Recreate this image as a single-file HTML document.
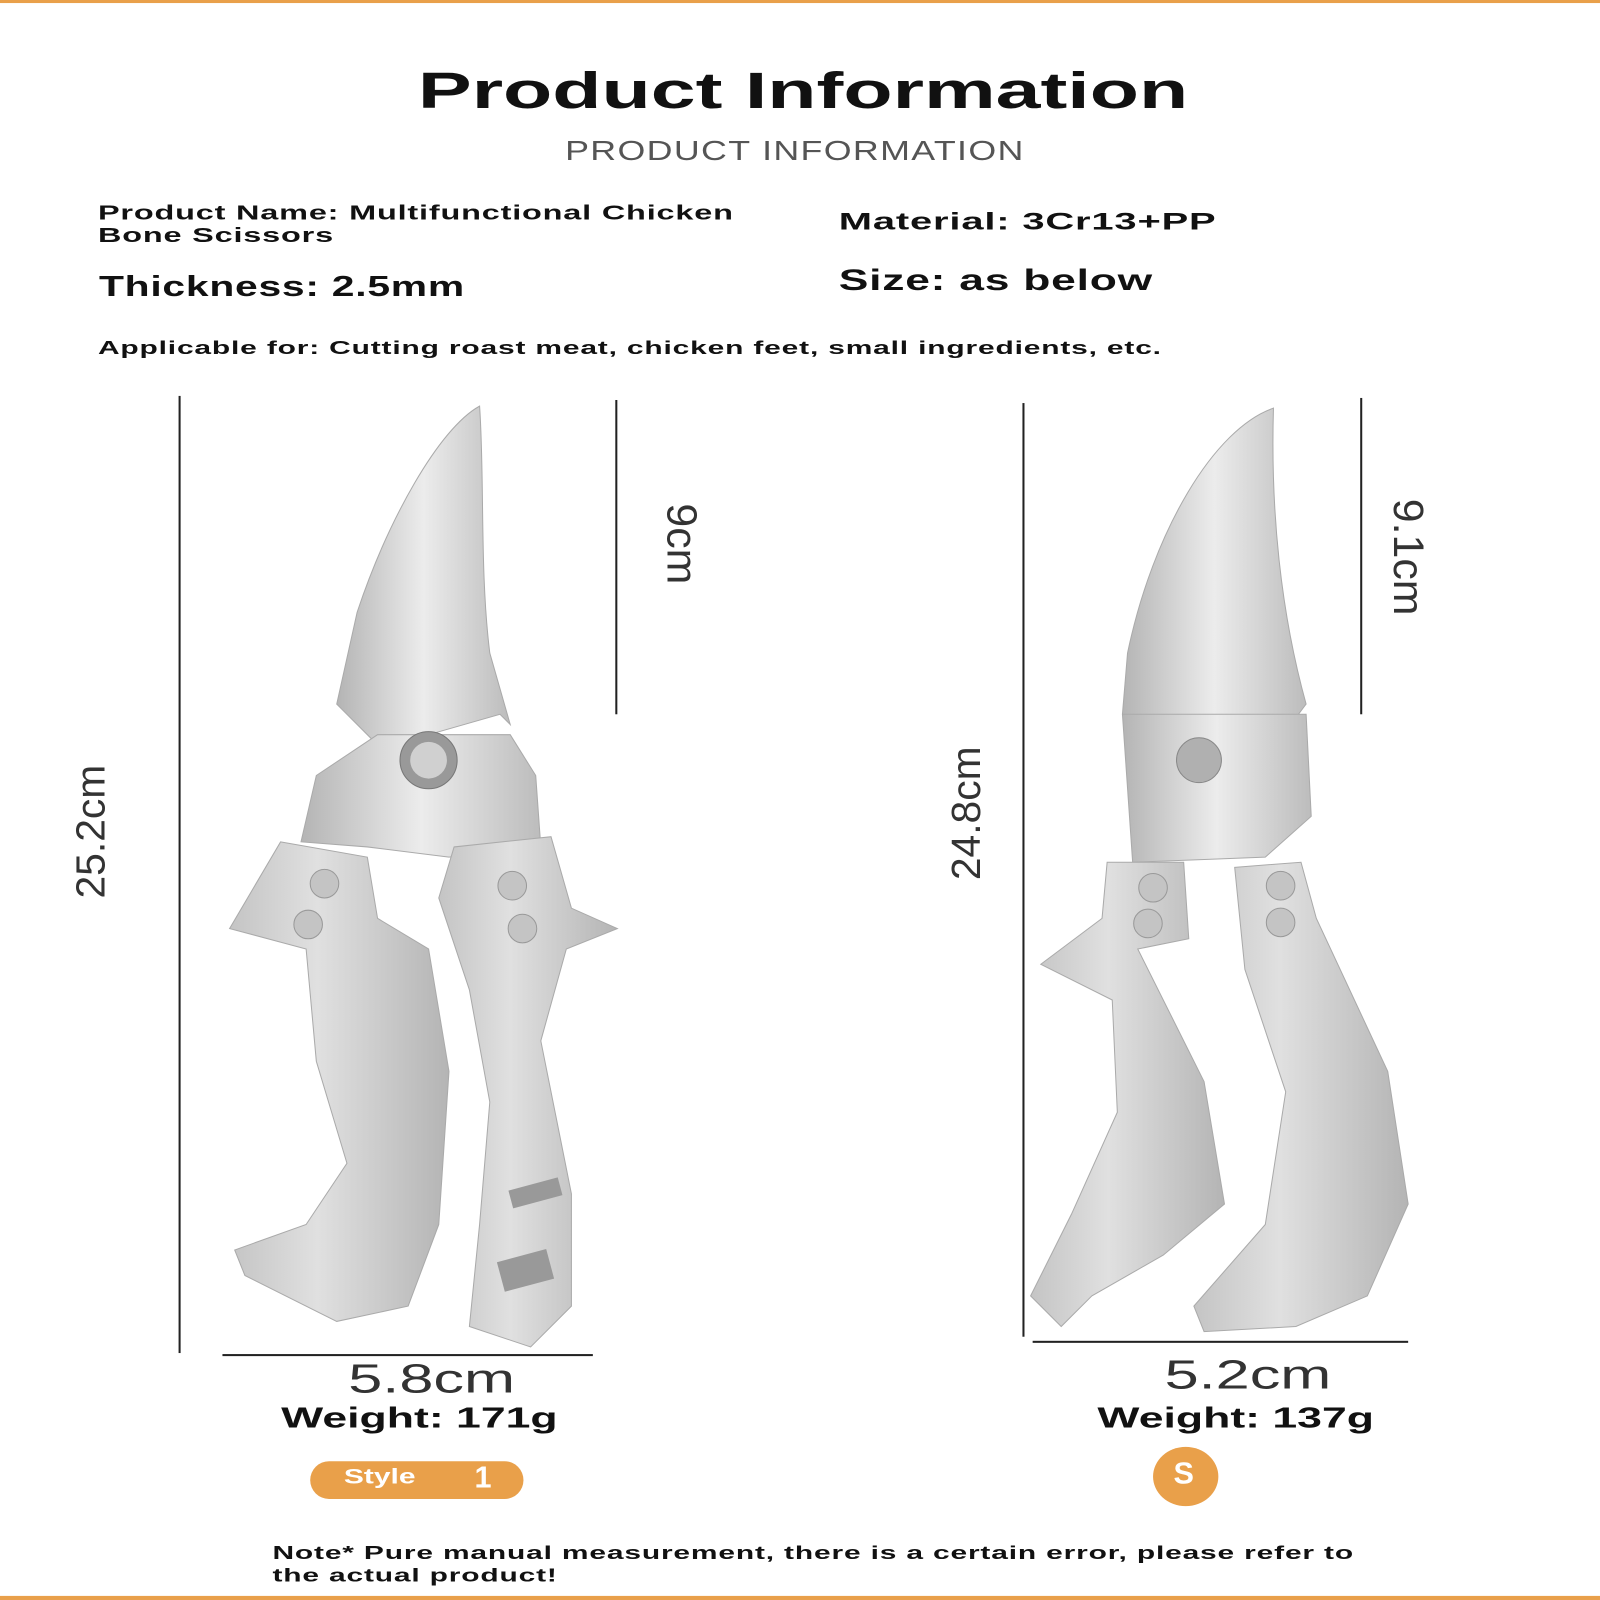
<!DOCTYPE html>
<html><head><meta charset="utf-8"><style>
html,body{margin:0;padding:0;background:#fff;}
body{width:1600px;height:1600px;position:relative;overflow:hidden;font-family:"Liberation Sans",sans-serif;}
#w{position:absolute;left:0;top:0;width:1568px;height:1568px;transform:scale(1.0204);transform-origin:0 0;}
.t{position:absolute;white-space:nowrap;color:#111;}
.b{font-weight:bold;}
.l{transform-origin:0 0;}
.line{position:absolute;background:#222;}
.thin{color:#333;font-weight:normal;}
</style></head><body>
<div id="w">
<div style="position:absolute;left:0;top:0;width:1568px;height:3px;background:#e9a04a"></div>
<div style="position:absolute;left:0;top:1564px;width:1568px;height:4px;background:#e9a04a"></div>

<div class="t b" style="left:787px;top:60px;font-size:50px;transform:translateX(-50%) scaleX(1.58);">Product Information</div>
<div class="t" style="left:779px;top:133px;font-size:27px;color:#555;letter-spacing:1px;transform:translateX(-50%) scaleX(1.3);">PRODUCT INFORMATION</div>

<div class="t b l" style="left:96px;top:198px;font-size:20px;line-height:22px;letter-spacing:0.5px;transform:scaleX(1.59);">Product Name: Multifunctional Chicken<br>Bone Scissors</div>
<div class="t b l" style="left:822px;top:204px;font-size:24px;letter-spacing:0.5px;transform:scaleX(1.63);">Material: 3Cr13+PP</div>
<div class="t b l" style="left:97px;top:265px;font-size:28px;letter-spacing:0.5px;transform:scaleX(1.43);">Thickness: 2.5mm</div>
<div class="t b l" style="left:822px;top:259px;font-size:29px;letter-spacing:0.5px;transform:scaleX(1.5);">Size: as below</div>
<div class="t b l" style="left:96px;top:331px;font-size:18px;letter-spacing:0.5px;transform:scaleX(1.63);">Applicable for: Cutting roast meat, chicken feet, small ingredients, etc.</div>

<div class="line" style="left:175px;top:388px;width:2px;height:938px"></div>
<div class="line" style="left:603px;top:392px;width:2px;height:308px"></div>
<div class="line" style="left:218px;top:1327px;width:363px;height:2px"></div>
<div class="line" style="left:1002px;top:395px;width:2px;height:915px"></div>
<div class="line" style="left:1333px;top:390px;width:2px;height:310px"></div>
<div class="line" style="left:1012px;top:1314px;width:368px;height:2px"></div>

<div class="t thin" style="left:90px;top:815px;font-size:40px;transform:translate(-50%,-50%) rotate(-90deg);">25.2cm</div>
<div class="t thin" style="left:668px;top:533px;font-size:42px;transform:translate(-50%,-50%) rotate(90deg);">9cm</div>
<div class="t thin" style="left:948px;top:797px;font-size:40px;transform:translate(-50%,-50%) rotate(-90deg);">24.8cm</div>
<div class="t thin" style="left:1380px;top:546px;font-size:42px;transform:translate(-50%,-50%) rotate(90deg);">9.1cm</div>

<svg width="1568" height="1568" style="position:absolute;left:0;top:0">
<defs>
<linearGradient id="g" x1="0" y1="0" x2="1" y2="0"><stop offset="0" stop-color="#b4b4b4"/><stop offset=".5" stop-color="#ececec"/><stop offset="1" stop-color="#bcbcbc"/></linearGradient>
<linearGradient id="h" x1="0" y1="0" x2="1" y2="0"><stop offset="0" stop-color="#c4c4c4"/><stop offset=".4" stop-color="#e0e0e0"/><stop offset="1" stop-color="#b4b4b4"/></linearGradient>
</defs>
<path d="M470 398 C430 420 380 510 350 600 L330 690 L370 730 L420 720 L490 700 L500 710 L480 640 C470 560 475 470 470 398Z" fill="url(#g)" stroke="#aaa"/>
<path d="M310 760 L370 720 L470 720 L500 720 L525 760 L530 830 L440 840 L360 830 L295 825Z" fill="url(#g)" stroke="#aaa"/>
<circle cx="420" cy="745" r="28" fill="#999" stroke="#777"/>
<circle cx="420" cy="745" r="18" fill="#d0d0d0"/>
<path d="M275 825 L360 840 L370 900 L420 930 L440 1050 L430 1200 L400 1280 L330 1295 L240 1250 L230 1225 L300 1200 L340 1140 L310 1040 L300 930 L225 910 Z" fill="url(#h)" stroke="#aaa"/>
<path d="M445 830 L540 820 L560 890 L605 910 L555 930 L530 1020 L560 1170 L560 1280 L520 1320 L460 1300 L470 1200 L480 1080 L460 970 L430 880 Z" fill="url(#h)" stroke="#aaa"/>
<circle cx="318" cy="866" r="14" fill="#c4c4c4" stroke="#999"/><circle cx="302" cy="906" r="14" fill="#c4c4c4" stroke="#999"/>
<circle cx="502" cy="868" r="14" fill="#c4c4c4" stroke="#999"/><circle cx="512" cy="910" r="14" fill="#c4c4c4" stroke="#999"/>
<rect x="500" y="1160" width="50" height="18" fill="#999" transform="rotate(-15 525 1170)"/>
<rect x="490" y="1230" width="50" height="30" fill="#999" transform="rotate(-15 515 1245)"/>
<path d="M1248 400 C1190 420 1130 520 1105 640 L1100 700 L1150 730 L1250 730 L1280 690 C1255 600 1245 500 1248 400Z" fill="url(#g)" stroke="#aaa"/>
<path d="M1100 700 L1280 700 L1285 800 L1240 840 L1110 845 Z" fill="url(#g)" stroke="#aaa"/>
<circle cx="1175" cy="745" r="22" fill="#b0b0b0" stroke="#888"/>
<path d="M1085 845 L1160 845 L1165 920 L1115 930 L1180 1060 L1200 1180 L1140 1230 L1070 1270 L1040 1300 L1010 1270 L1050 1190 L1095 1090 L1090 980 L1020 945 L1080 900 Z" fill="url(#h)" stroke="#aaa"/>
<path d="M1210 850 L1275 845 L1290 900 L1360 1050 L1380 1180 L1340 1270 L1270 1300 L1180 1305 L1170 1280 L1240 1200 L1260 1070 L1220 950 Z" fill="url(#h)" stroke="#aaa"/>
<circle cx="1130" cy="870" r="14" fill="#c4c4c4" stroke="#999"/><circle cx="1125" cy="905" r="14" fill="#c4c4c4" stroke="#999"/>
<circle cx="1255" cy="868" r="14" fill="#c4c4c4" stroke="#999"/><circle cx="1255" cy="904" r="14" fill="#c4c4c4" stroke="#999"/>
</svg>

<div class="t thin" style="left:423px;top:1352px;font-size:40px;transform:translate(-50%,-50%) scaleX(1.5);">5.8cm</div>
<div class="t b" style="left:411px;top:1390px;font-size:28px;transform:translate(-50%,-50%) scaleX(1.56);">Weight: 171g</div>
<div class="t thin" style="left:1223px;top:1348px;font-size:40px;transform:translate(-50%,-50%) scaleX(1.5);">5.2cm</div>
<div class="t b" style="left:1211px;top:1390px;font-size:28px;transform:translate(-50%,-50%) scaleX(1.56);">Weight: 137g</div>

<div style="position:absolute;left:304px;top:1432px;width:209px;height:37px;border-radius:19px;background:#e9a04a;"></div>
<div class="t b l" style="left:337px;top:1436px;font-size:21px;color:#fff;transform:scaleX(1.4);">Style</div>
<div class="t b" style="left:465px;top:1432px;font-size:30px;color:#fff;">1</div>
<div style="position:absolute;left:1130px;top:1418px;width:64px;height:58px;border-radius:50%;background:#e9a04a;"></div>
<div class="t b" style="left:1150px;top:1428px;font-size:30px;color:#fff;">S</div>

<div class="t b l" style="left:267px;top:1511px;font-size:18px;line-height:22px;letter-spacing:0.5px;transform:scaleX(1.63);">Note* Pure manual measurement, there is a certain error, please refer to<br>the actual product!</div>
</div>
</body></html>
